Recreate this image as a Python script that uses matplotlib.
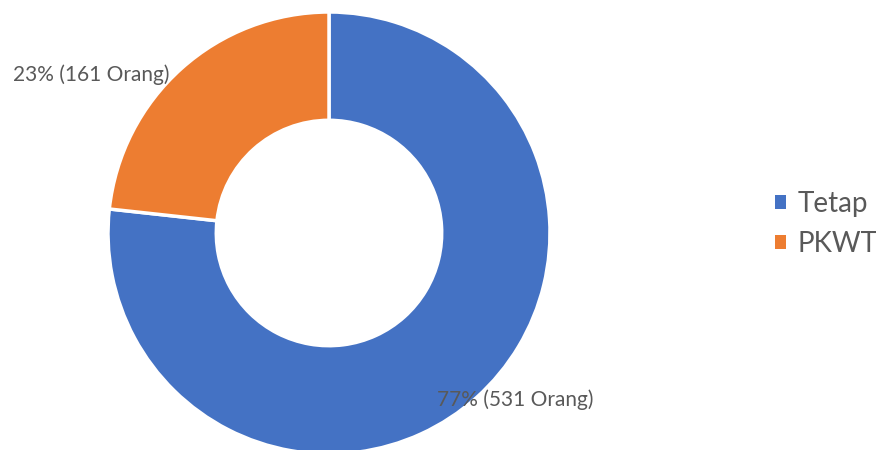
import matplotlib.pyplot as plt
from matplotlib.patches import Patch

# --- DATA ---
categories = ["Tetap", "PKWT"]
counts = [531, 161]
percents = [77, 23]
colors = ["#4472C4", "#ED7D31"]

plt.rcParams['font.family'] = ['Lato', 'DejaVu Sans']
TEXT_COLOR = "#595959"

fig = plt.figure(figsize=(8.76, 4.5), dpi=100)
# donut centre at (329, 233) px, radius 221 px
cx, cy, r = 329, 233, 221
ax = fig.add_axes([(cx - r) / 876, (450 - cy - r) / 450, 2 * r / 876, 2 * r / 450])

ax.pie(counts, colors=colors, startangle=90, counterclock=False, radius=1,
       wedgeprops=dict(width=0.49, edgecolor='white', linewidth=2.5))
ax.set_xlim(-1, 1)
ax.set_ylim(-1, 1)
ax.set_aspect('equal')
ax.axis('off')

labels = [f"{p}% ({n} Orang)" for p, n in zip(percents, counts)]
label_pos = [(0.842, -0.756), (-1.077, 0.715)]
for text, (x, y) in zip(labels, label_pos):
    ax.text(x, y, text, ha='center', va='center', fontsize=15, color=TEXT_COLOR, clip_on=False)

handles = [Patch(facecolor=c, edgecolor='none') for c in colors]
fig.legend(handles, categories, loc='center left', bbox_to_anchor=(775 / 876, 1 - 224 / 450),
           frameon=False, fontsize=20, labelcolor=TEXT_COLOR, borderaxespad=0, borderpad=0,
           handlelength=0.4, handleheight=0.4, handletextpad=0.4, labelspacing=0.5)

fig.savefig("out.png", dpi=100, facecolor='white')
